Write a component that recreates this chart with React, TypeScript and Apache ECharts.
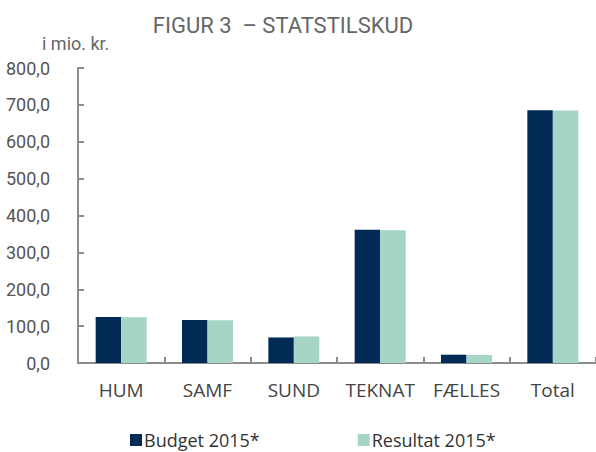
import React, { useEffect, useRef } from "react";
import * as echarts from "echarts";

const categories = ["HUM", "SAMF", "SUND", "TEKNAT", "FÆLLES", "Total"];
const budget2015 = [124.5, 116.4, 69.3, 361.6, 22.5, 685.5];
const resultat2015 = [124.0, 116.0, 72.0, 360.0, 21.6, 685.0];
const seriesNames = ["Budget 2015*", "Resultat 2015*"];
const yMin = 0;
const yMax = 800;
const yInterval = 100;

export default function App() {
  const ref = useRef<HTMLDivElement>(null);
  useEffect(() => {
    if (!ref.current) return;
    const chart = echarts.init(ref.current, null, { renderer: "svg" });
    const font = "Open Sans";
    chart.setOption({
      animation: false,
      backgroundColor: "#ffffff",
      title: [
        {
          text: "FIGUR 3  – STATSTILSKUD",
          left: 278,
          top: 9,
          textAlign: "center",
          textStyle: { color: "#666666", fontSize: 22, fontWeight: "normal", fontFamily: "Roboto" },
        },
        {
          text: "i mio. kr.",
          left: 37,
          top: 29,
          textStyle: { color: "#666666", fontSize: 18, fontWeight: "normal", fontFamily: "Roboto" },
        },
      ],
      legend: {
        left: 125,
        top: 426,
        itemWidth: 12,
        itemHeight: 12,
        itemGap: 98,
        icon: "rect",
        textStyle: { color: "#333333", fontSize: 18, fontFamily: font, padding: [0, 0, 0, -3] },
        data: seriesNames,
      },
      grid: { left: 78, right: 0, top: 68, bottom: 89, containLabel: false },
      xAxis: {
        type: "category",
        data: categories,
        axisLine: { lineStyle: { color: "#8c8c8c", width: 2 } },
        axisTick: { show: true, inside: true, length: 6, lineStyle: { color: "#8c8c8c", width: 2 } },
        axisLabel: { color: "#444444", fontSize: 19, fontFamily: font, margin: 17, interval: 0 },
      },
      yAxis: {
        type: "value",
        min: yMin,
        max: yMax,
        interval: yInterval,
        axisLine: { show: true, lineStyle: { color: "#8c8c8c", width: 2 } },
        axisTick: { show: true, inside: true, length: 6, lineStyle: { color: "#8c8c8c", width: 2 } },
        splitLine: { show: false },
        axisLabel: {
          color: "#555555",
          fontSize: 18,
          fontFamily: "Roboto",
          margin: 28,
          formatter: (v: number) => v.toFixed(1).replace(".", ","),
        },
      },
      series: [
        {
          name: seriesNames[0],
          type: "bar",
          data: budget2015,
          barWidth: 25.5,
          barGap: "0%",
          itemStyle: { color: "#012a55" },
        },
        {
          name: seriesNames[1],
          type: "bar",
          data: resultat2015,
          barWidth: 25.5,
          itemStyle: { color: "#a6d4c6" },
        },
      ],
    });
    return () => chart.dispose();
  }, []);
  return <div ref={ref} style={{ width: 596, height: 452, position: "absolute", left: 0, top: 0 }} />;
}
